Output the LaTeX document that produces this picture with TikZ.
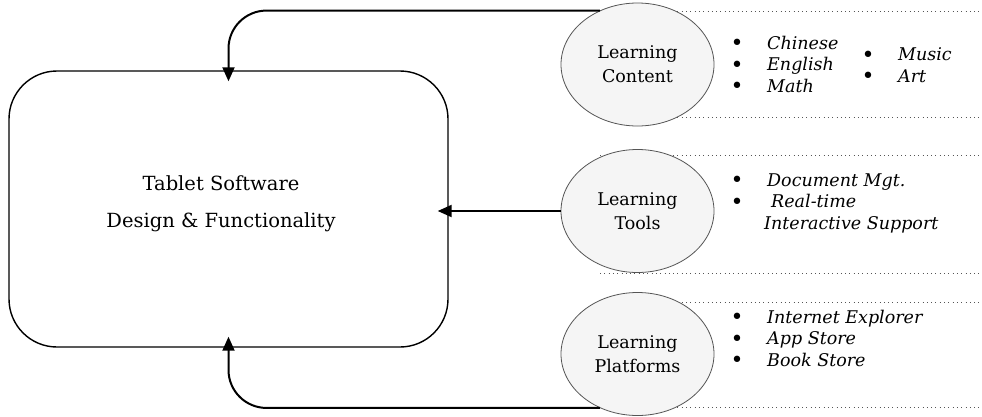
\documentclass[tikz,border=0pt]{standalone}
\usepackage{fontspec}
\setmainfont{DejaVu Serif}
\usetikzlibrary{shapes.geometric,arrows.meta}
\definecolor{ellfill}{HTML}{F5F5F5}
\definecolor{ellline}{HTML}{555555}
\definecolor{dotcol}{HTML}{555555}
\newcommand\myitem{\makebox[0pt][c]{\upshape\fontsize{22}{22}\selectfont\raisebox{-1.5pt}{\textbullet}}\hspace{30pt}}
\begin{document}
\begin{tikzpicture}[x=1pt,y=-1pt,
  mainbox/.style={draw=black, line width=1.4pt, rounded corners=48pt, minimum width=439pt, minimum height=276pt, inner sep=0pt},
  topic/.style={ellipse, draw=ellline, line width=0.8pt, fill=ellfill, minimum width=153pt, minimum height=123pt, inner sep=0pt, align=center, font=\fontsize{17.5}{24}\selectfont},
  conn/.style={draw=black, line width=2pt, rounded corners=38pt, -{Triangle[length=14pt,width=12pt]}},
  dotline/.style={draw=dotcol, line width=1pt, dash pattern=on 1pt off 3.3pt},
  itemlist/.style={anchor=west, inner sep=0pt, align=left, font=\fontsize{17.5}{21.5}\selectfont\itshape}
]
\fill[white] (0,0) rectangle (982,416);
\useasboundingbox (0,0) rectangle (982,416);

% dotted frames of the lists
\draw[dotline] (600,11) coordinate (ca) -- (982,11) coordinate (cb);
\draw[dotline] (600,117) coordinate (cc) -- (982,117) coordinate (cd);
\draw[dotline] (600,155) coordinate (ta) -- (982,155) coordinate (tb);
\draw[dotline] (600,273) coordinate (tc) -- (982,273) coordinate (td);
\draw[dotline] (600,302) coordinate (pa) -- (982,302) coordinate (pb);
\draw[dotline] (600,407) coordinate (pc) -- (982,407) coordinate (pd);

% main box
\node[mainbox] (main) at (228.5,209) {};
\node[font=\fontsize{19.5}{37}\selectfont, align=center, inner sep=0pt] (mainlabel) at (221,203.5) {Tablet Software\\Design \& Functionality};

% topics
\node[topic] (c) at (637.5,64.5) {Learning\\Content};
\node[topic] (t) at (637.5,211) {Learning\\Tools};
\node[topic] (p) at (637.5,354) {Learning\\Platforms};

% lists
\node[itemlist] (cl1) at (737,65) {\myitem Chinese\\\myitem English\\\myitem Math};
\node[itemlist] (cl2) at (868,66) {\myitem Music\\\myitem Art};
\node[itemlist] (tl) at (737,203) {\myitem Document Mgt.\\\myitem\hspace{4pt}Real-time\\\hspace{27pt}Interactive Support};
\node[itemlist] (pl) at (737,339) {\myitem Internet Explorer\\\myitem App Store\\\myitem Book Store};

% connectors
\coordinate (mtip) at ([xshift=-11pt]main.east);
\draw[conn] (c.125) -| ([yshift=-11pt]main.north);
\draw[conn] (t.west) -- (t.west -| mtip);
\draw[conn] (p.235) -| ([yshift=11pt]main.south);
\end{tikzpicture}
\end{document}
